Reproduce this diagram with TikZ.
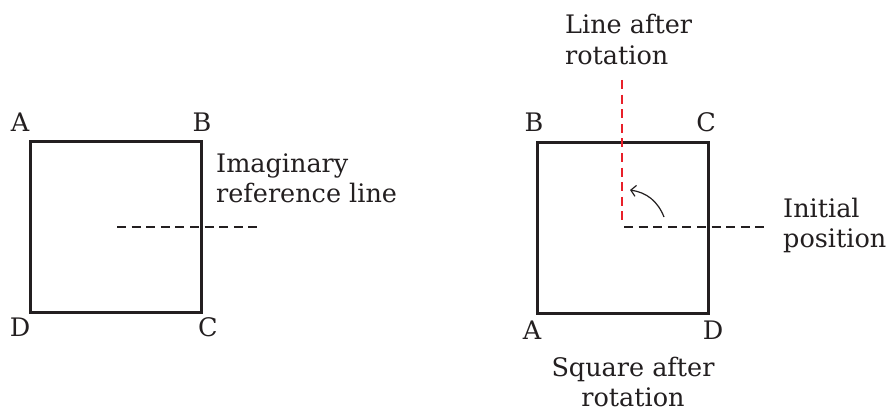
\documentclass[tikz,border=0pt]{standalone}
\usepackage{fontspec}
\setmainfont{DejaVu Serif}
\usetikzlibrary{arrows.meta}
\definecolor{ink}{RGB}{35,31,32}
\definecolor{rotred}{RGB}{232,32,42}
\begin{document}
\begin{tikzpicture}[x=1pt,y=-1pt,
  lbl/.style={inner sep=0pt,text=ink,font=\fontsize{25.5}{30}\selectfont},
  sqline/.style={draw=ink,line width=3pt},
  refdash/.style={draw=ink,line width=2.4pt,dash pattern=on 9pt off 5.6pt},
  reddash/.style={draw=rotred,line width=2.4pt,dash pattern=on 9pt off 5.6pt},
  turn/.style={draw=ink,line width=1.2pt,-{Straight Barb[length=5pt,width=11pt]}}]
\useasboundingbox[fill=white] (0,0) rectangle (889,412);
% left square
\coordinate (LA) at (30,141);
\coordinate (LB) at (201,141);
\coordinate (LC) at (201,312);
\coordinate (LD) at (30,312);
\draw[sqline] (LA) -- (LB) -- (LC) -- (LD) -- cycle;
\coordinate (L1) at (117,227);
\coordinate (L2) at (258,227);
\draw[refdash] (L1) -- (L2);
\node[lbl,anchor=base] (tA) at (20,131) {A};
\node[lbl,anchor=base] (tB) at (202,131) {B};
\node[lbl,anchor=base] (tD) at (20,336) {D};
\node[lbl,anchor=base] (tC) at (208,336) {C};
\node[lbl,anchor=base west,align=left] (tImg) at (216,202) {Imaginary\\reference line};
% right square
\coordinate (RB) at (537,142);
\coordinate (RC) at (708,142);
\coordinate (RD) at (708,313);
\coordinate (RA) at (537,313);
\draw[sqline] (RB) -- (RC) -- (RD) -- (RA) -- cycle;
\coordinate (R0) at (624,227);
\coordinate (R1) at (766,227);
\draw[refdash] (R0) -- (R1);
\coordinate (V0) at (622,80);
\coordinate (V1) at (622,220);
\draw[reddash] (V0) -- (V1);
\coordinate (T0) at (664,217);
\coordinate (T1) at (630,190);
\draw[turn] (T0) to[bend right=30] (T1);
\node[lbl,anchor=base] (uB) at (534,131) {B};
\node[lbl,anchor=base] (uC) at (706,131) {C};
\node[lbl,anchor=base] (uA) at (532,339) {A};
\node[lbl,anchor=base] (uD) at (713,339) {D};
\node[lbl,anchor=base west,align=left] (tLine) at (565,64) {Line after\\rotation};
\node[lbl,anchor=base west,align=left] (tInit) at (783,247) {Initial\\position};
\node[lbl,anchor=base,align=center] (tSq) at (633,406) {Square after\\rotation};
\end{tikzpicture}
\end{document}
